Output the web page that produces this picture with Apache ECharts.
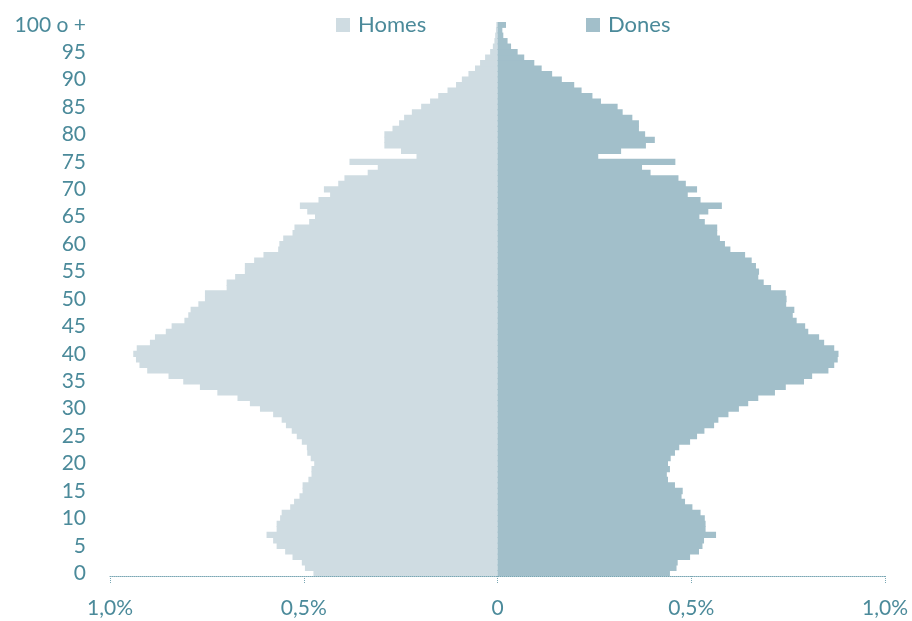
<!DOCTYPE html>
<html>
<head>
<meta charset="utf-8">
<script src="https://cdn.jsdelivr.net/npm/echarts@6/dist/echarts.min.js"></script>
<style>
html,body{margin:0;padding:0;background:#fff;}
#chart{width:912px;height:621px;}
</style>
</head>
<body>
<div id="chart"></div>
<script>
// Ages 0..100 (100 = "100 o +")
const ages = Array.from({length: 101}, (_, i) => i);
const ageLabels = ages.map(a => a === 100 ? '100 o +' : String(a));

// Percent of population, index = age
const homes = [
  0.475, 0.497, 0.505, 0.529, 0.548, 0.570, 0.579, 0.596, 0.570, 0.570,
  0.561, 0.557, 0.535, 0.525, 0.511, 0.503, 0.503, 0.488, 0.480, 0.480,
  0.473, 0.482, 0.491, 0.492, 0.505, 0.518, 0.531, 0.546, 0.557, 0.579,
  0.613, 0.639, 0.671, 0.723, 0.768, 0.811, 0.849, 0.904, 0.924, 0.933,
  0.940, 0.931, 0.897, 0.884, 0.856, 0.841, 0.808, 0.798, 0.792, 0.772,
  0.755, 0.755, 0.699, 0.699, 0.677, 0.652, 0.652, 0.628, 0.604, 0.566,
  0.563, 0.553, 0.529, 0.524, 0.486, 0.471, 0.491, 0.510, 0.462, 0.432,
  0.448, 0.411, 0.395, 0.335, 0.309, 0.382, 0.209, 0.249, 0.292, 0.292,
  0.292, 0.271, 0.254, 0.241, 0.221, 0.197, 0.174, 0.153, 0.129, 0.107,
  0.092, 0.075, 0.058, 0.045, 0.032, 0.019, 0.012, 0.008, 0.006, 0.004,
  0.003
];
const dones = [
  0.445, 0.462, 0.465, 0.497, 0.520, 0.529, 0.533, 0.564, 0.537, 0.537,
  0.535, 0.524, 0.503, 0.484, 0.475, 0.478, 0.458, 0.440, 0.437, 0.445,
  0.440, 0.447, 0.458, 0.469, 0.497, 0.515, 0.534, 0.559, 0.570, 0.596,
  0.623, 0.647, 0.673, 0.716, 0.744, 0.791, 0.812, 0.854, 0.869, 0.878,
  0.880, 0.869, 0.843, 0.830, 0.802, 0.794, 0.772, 0.762, 0.766, 0.745,
  0.746, 0.744, 0.706, 0.687, 0.673, 0.675, 0.667, 0.656, 0.639, 0.601,
  0.587, 0.574, 0.567, 0.567, 0.535, 0.521, 0.544, 0.579, 0.524, 0.491,
  0.515, 0.486, 0.467, 0.395, 0.373, 0.459, 0.260, 0.319, 0.383, 0.406,
  0.381, 0.365, 0.365, 0.348, 0.323, 0.310, 0.267, 0.245, 0.217, 0.198,
  0.166, 0.141, 0.114, 0.095, 0.069, 0.052, 0.035, 0.026, 0.015, 0.0125,
  0.022
];
const seriesNames = ['Homes', 'Dones'];
const xTicks = [-1, -0.5, 0, 0.5, 1];

const textColor = '#4b8a9a';
const homesColor = '#cfdce2';
const donesColor = '#a2bfca';
const fontFamily = 'Lato, "Open Sans", sans-serif';

function fmtX(v) {
  const a = Math.abs(v);
  if (a === 0) return '0';
  return a.toFixed(1).replace('.', ',') + '%';
}

const chart = echarts.init(document.getElementById('chart'));
chart.setOption({
  animation: false,
  backgroundColor: '#ffffff',
  textStyle: { fontFamily: fontFamily },
  legend: [
    {
      data: [seriesNames[0]],
      left: 336, top: 14, padding: 0,
      itemWidth: 14, itemHeight: 14,
      icon: 'rect',
      textStyle: { color: textColor, fontSize: 22, fontFamily: fontFamily, padding: [0, 0, 0, 3] }
    },
    {
      data: [seriesNames[1]],
      left: 586, top: 14, padding: 0,
      itemWidth: 14, itemHeight: 14,
      icon: 'rect',
      textStyle: { color: textColor, fontSize: 22, fontFamily: fontFamily, padding: [0, 0, 0, 3] }
    }
  ],
  grid: { left: 110, right: 27, top: 22, bottom: 45, containLabel: false },
  xAxis: {
    type: 'value',
    min: xTicks[0], max: xTicks[xTicks.length - 1], interval: 0.5,
    axisLine: { show: true, lineStyle: { color: '#7aa7b4', type: 'dotted', width: 1 } },
    axisTick: { show: true, length: 7, lineStyle: { color: '#7aa7b4', type: 'dotted' } },
    splitLine: { show: false },
    axisLabel: {
      color: textColor, fontSize: 21, fontFamily: fontFamily, margin: 22,
      formatter: fmtX
    },
    z: 5
  },
  yAxis: {
    type: 'category',
    data: ageLabels,
    axisLine: { show: false },
    axisTick: { show: false },
    splitLine: { show: false },
    axisLabel: {
      color: textColor, fontSize: 21, fontFamily: fontFamily, margin: 24,
      interval: function (index) { return index % 5 === 0; }
    }
  },
  series: [
    {
      name: seriesNames[0], type: 'bar', stack: 'p',
      data: homes.map(v => -v),
      itemStyle: { color: homesColor },
      barWidth: 6.3
    },
    {
      name: seriesNames[1], type: 'bar', stack: 'p',
      data: dones,
      itemStyle: { color: donesColor },
      barWidth: 6.3
    }
  ]
});
</script>
</body>
</html>
